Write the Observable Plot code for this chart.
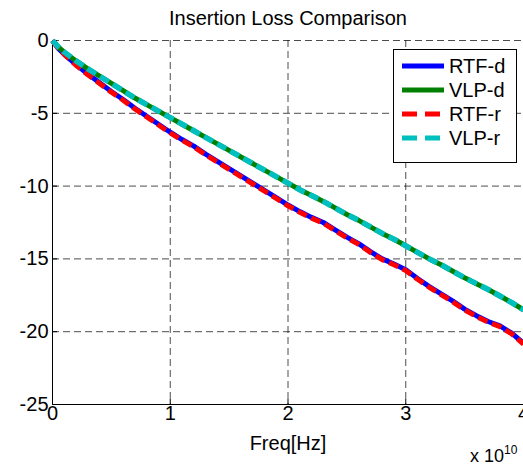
<!DOCTYPE html>
<html><head><meta charset="utf-8">
<script src="https://cdn.jsdelivr.net/npm/d3@7"></script>
<script src="https://cdn.jsdelivr.net/npm/@observablehq/plot@0.6"></script>
<style>
body{margin:0;background:#fff;}
#chart{width:523px;height:464px;overflow:hidden;}
</style></head><body><div id="chart"></div>
<script>
const freq = [0,0.05,0.1,0.2,0.3,0.4,0.5,0.6,0.7,0.8,0.9,1.0,1.1,1.2,1.3,1.4,1.5,1.6,1.7,1.8,1.9,2.0,2.1,2.2,2.3,2.4,2.5,2.6,2.7,2.8,2.9,3.0,3.1,3.2,3.3,3.4,3.5,3.6,3.7,3.8,3.9,4.0];
const rtfD = [0,-0.55,-0.95,-1.65,-2.3,-2.9,-3.5,-4.05,-4.65,-5.2,-5.75,-6.3,-6.8,-7.25,-7.8,-8.3,-8.8,-9.3,-9.8,-10.3,-10.8,-11.3,-11.75,-12.15,-12.5,-13.0,-13.5,-13.95,-14.5,-15.0,-15.35,-15.75,-16.35,-16.9,-17.4,-17.9,-18.45,-18.9,-19.3,-19.6,-20.1,-20.8];
const vlpD = [0,-0.45,-0.8,-1.4,-1.95,-2.45,-2.95,-3.45,-3.95,-4.4,-4.85,-5.3,-5.75,-6.2,-6.65,-7.1,-7.55,-8.0,-8.45,-8.9,-9.35,-9.8,-10.25,-10.65,-11.05,-11.5,-11.95,-12.35,-12.8,-13.25,-13.65,-14.1,-14.55,-15.0,-15.4,-15.85,-16.3,-16.7,-17.1,-17.55,-18.0,-18.5];
const rtfR = [0,-0.55,-0.95,-1.7,-2.35,-2.95,-3.55,-4.1,-4.7,-5.25,-5.8,-6.35,-6.85,-7.3,-7.85,-8.35,-8.85,-9.35,-9.85,-10.35,-10.85,-11.35,-11.8,-12.2,-12.55,-13.05,-13.55,-14.0,-14.55,-15.05,-15.4,-15.8,-16.4,-16.95,-17.45,-17.95,-18.5,-18.95,-19.35,-19.65,-20.15,-20.85];
const vlpR = [0,-0.45,-0.8,-1.4,-1.95,-2.45,-2.95,-3.45,-3.95,-4.4,-4.85,-5.3,-5.75,-6.2,-6.65,-7.1,-7.55,-8.0,-8.45,-8.9,-9.35,-9.8,-10.25,-10.65,-11.05,-11.5,-11.95,-12.35,-12.8,-13.25,-13.65,-14.1,-14.55,-15.0,-15.4,-15.85,-16.3,-16.7,-17.1,-17.55,-18.0,-18.5];
const xTicks = [0,1,2,3,4];
const yTicks = [0,-5,-10,-15,-20,-25];
const seriesNames = ["RTF-d","VLP-d","RTF-r","VLP-r"];
const seriesColors = ["#0000ff","#008000","#ff0000","#00bfbf"];
const seriesDash = [null,null,"10,5","10,5"];
const titleText = "Insertion Loss Comparison";
const xLabelText = "Freq[Hz]";
const expBase = "x 10", expPow = "10";

const seriesValues = [rtfD, vlpD, rtfR, vlpR];
const font = "'Liberation Sans', Arial, Helvetica, sans-serif";
const fs = 20;
const gridStyle = {stroke:"#000", strokeOpacity:0.7, strokeWidth:1, strokeDasharray:"7,4"};

const lineMarks = seriesValues.map((vals, i) => {
  const rows = freq.map((f, j) => ({f, v: vals[j]}));
  return Plot.line(rows, {x:"f", y:"v", stroke: seriesColors[i], strokeWidth: i===3 ? 5.5 : 5,
    strokeDasharray: seriesDash[i] || undefined, strokeLinecap: "butt", strokeLinejoin:"round"});
});

const chart = Plot.plot({
  width: 523, height: 464,
  marginLeft: 52, marginRight: 0, marginTop: 40, marginBottom: 60,
  style: {fontFamily: font, fontSize: fs + "px", background: "#fff", color: "#000", overflow:"visible"},
  x: {domain: [0, 4]},
  y: {domain: [-25, 0]},
  marks: [
    Plot.ruleX(xTicks.filter(d => d !== 0), gridStyle),
    Plot.ruleY(yTicks.filter(d => d !== -25), gridStyle),
    Plot.ruleX([0], {stroke:"#000", strokeWidth:1}),
    Plot.ruleY([-25], {stroke:"#000", strokeWidth:1}),
    Plot.axisX({ticks: xTicks, tickSize: -5, tickPadding: 6, tickFormat: d => String(d), label: null, fontSize: fs}),
    Plot.axisY({ticks: yTicks, tickSize: -5, tickPadding: 9, tickFormat: d => String(d), label: null, fontSize: fs}),
    ...lineMarks,
    Plot.text([titleText], {text: d => d, frameAnchor: "top", dy: -22, fontSize: fs, lineAnchor: "middle"}),
    Plot.text([xLabelText], {text: d => d, frameAnchor: "bottom", dy: 39, fontSize: fs, lineAnchor: "middle"})
  ]
});
document.getElementById("chart").appendChild(chart);

const svg = d3.select(chart);
// exponent label
const ex = svg.append("text").attr("x", 470).attr("y", 462)
  .style("font-size", "18px").style("font-family", font).style("text-anchor", "start").attr("fill", "#000");
ex.append("tspan").text(expBase);
ex.append("tspan").attr("dy", -8).style("font-size", "12px").text(expPow);

// legend
const lg = svg.append("g").style("font-family", font).style("font-size", fs + "px").style("text-anchor", "start");
lg.append("rect").attr("x", 393.5).attr("y", 49.5).attr("width", 123).attr("height", 113)
  .attr("fill", "#fff").attr("stroke", "#000").attr("stroke-width", 1);
seriesNames.forEach((name, i) => {
  const y = 66 + 24 * i;
  lg.append("line").attr("x1", 402).attr("x2", 444).attr("y1", y).attr("y2", y)
    .attr("stroke", seriesColors[i]).attr("stroke-width", 5)
    .attr("stroke-dasharray", seriesDash[i] ? "15,8" : null);
  lg.append("text").attr("x", 449).attr("y", y + 7).attr("fill", "#000").text(name);
});
</script></body></html>
